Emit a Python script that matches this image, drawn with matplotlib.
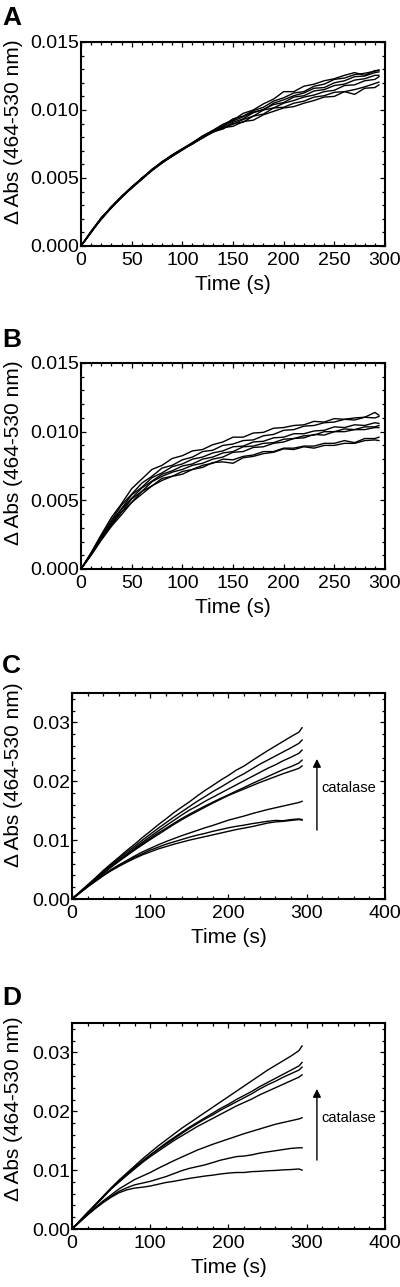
import matplotlib
matplotlib.use("Agg")
import matplotlib.pyplot as plt
from matplotlib.ticker import MultipleLocator, FormatStrFormatter

plt.rcParams['font.family'] = ['Liberation Sans', 'DejaVu Sans']

# ---------------- data (absorbance values in units of 1e-3) ----------------
time = [0, 10, 20, 30, 40, 50, 60, 70, 80, 90, 100, 110, 120, 130, 140, 150,
        160, 170, 180, 190, 200, 210, 220, 230, 240, 250, 260, 270, 280, 290, 294]

panel_A = [
    [0, 1.05, 2.0, 2.9, 3.65, 4.3, 5.0, 5.6, 6.2, 6.65, 7.1, 7.6, 8.1, 8.5, 8.95, 9.25, 9.75, 10.0, 10.45, 10.8, 11.35, 11.35, 11.75, 11.9, 12.15, 12.3, 12.55, 12.75, 12.55, 12.9, 12.9],
    [0, 1.0, 2.05, 2.85, 3.6, 4.35, 4.95, 5.65, 6.15, 6.7, 7.15, 7.55, 8.0, 8.4, 8.85, 9.35, 9.55, 9.95, 10.2, 10.65, 10.9, 11.25, 11.35, 11.75, 11.9, 12.25, 12.35, 12.6, 12.7, 12.85, 12.95],
    [0, 1.1, 2.05, 2.8, 3.6, 4.25, 4.9, 5.55, 6.1, 6.6, 7.1, 7.5, 7.95, 8.45, 8.8, 9.2, 9.5, 9.85, 10.0, 10.5, 10.75, 11.05, 11.25, 11.6, 11.65, 12.0, 12.15, 12.45, 12.5, 12.75, 12.8],
    [0, 1.05, 2.1, 2.85, 3.55, 4.3, 4.95, 5.6, 6.15, 6.6, 7.05, 7.55, 7.95, 8.35, 8.65, 9.1, 9.35, 9.8, 10.05, 10.4, 10.55, 10.95, 11.05, 11.4, 11.5, 11.8, 11.9, 12.2, 12.3, 12.55, 12.55],
    [0, 1.0, 2.0, 2.9, 3.6, 4.25, 5.0, 5.55, 6.1, 6.65, 7.1, 7.5, 8.0, 8.45, 8.75, 8.95, 9.3, 9.55, 10.0, 10.15, 10.5, 10.7, 10.95, 11.1, 11.35, 11.45, 11.8, 11.85, 12.15, 12.25, 12.45],
    [0, 1.05, 1.95, 2.8, 3.6, 4.3, 4.9, 5.6, 6.2, 6.7, 7.15, 7.6, 8.05, 8.4, 8.6, 9.0, 9.1, 9.55, 9.7, 10.15, 10.2, 10.5, 10.65, 10.95, 11.05, 11.3, 11.35, 11.5, 11.7, 11.95, 12.05],
    [0, 1.0, 2.05, 2.85, 3.65, 4.35, 4.95, 5.55, 6.15, 6.6, 7.1, 7.55, 7.95, 8.45, 8.7, 8.8, 9.15, 9.25, 9.65, 9.9, 10.15, 10.25, 10.5, 10.7, 10.95, 11.0, 11.35, 11.15, 11.6, 11.65, 11.85],
]

panel_B = [
    [0, 1.2, 2.5, 3.75, 4.75, 5.85, 6.55, 7.25, 7.55, 8.05, 8.25, 8.6, 8.7, 9.05, 9.25, 9.6, 9.6, 9.9, 9.95, 10.25, 10.3, 10.45, 10.5, 10.75, 10.7, 10.95, 10.9, 11.0, 11.05, 11.4, 11.2],
    [0, 1.15, 2.4, 3.55, 4.65, 5.45, 6.25, 6.75, 7.35, 7.55, 7.95, 8.15, 8.55, 8.65, 9.0, 9.1, 9.35, 9.4, 9.7, 9.8, 10.1, 10.15, 10.4, 10.45, 10.65, 10.7, 10.9, 10.85, 11.05, 11.0, 11.1],
    [0, 1.1, 2.3, 3.45, 4.4, 5.4, 5.95, 6.65, 7.0, 7.45, 7.65, 8.0, 8.15, 8.45, 8.6, 8.9, 8.95, 9.25, 9.3, 9.55, 9.6, 9.85, 9.85, 10.05, 10.1, 10.35, 10.3, 10.5, 10.45, 10.65, 10.6],
    [0, 1.1, 2.25, 3.3, 4.35, 5.15, 5.9, 6.4, 6.9, 7.15, 7.5, 7.65, 8.0, 8.15, 8.45, 8.55, 8.9, 8.95, 9.15, 9.2, 9.45, 9.5, 9.7, 9.75, 10.0, 10.0, 10.2, 10.15, 10.35, 10.35, 10.45],
    [0, 1.05, 2.2, 3.25, 4.15, 5.1, 5.65, 6.35, 6.75, 7.05, 7.25, 7.55, 7.7, 8.0, 8.15, 8.5, 8.55, 8.85, 8.9, 9.15, 9.25, 9.5, 9.55, 9.8, 9.75, 10.0, 10.0, 10.15, 10.15, 10.3, 10.3],
    [0, 1.05, 2.15, 3.2, 4.15, 4.85, 5.65, 6.05, 6.6, 6.75, 7.1, 7.25, 7.55, 7.7, 8.0, 7.95, 8.2, 8.3, 8.55, 8.55, 8.8, 8.8, 8.95, 8.95, 9.15, 9.15, 9.35, 9.2, 9.5, 9.5, 9.6],
    [0, 1.0, 2.1, 3.1, 3.95, 4.85, 5.45, 6.05, 6.45, 6.75, 6.9, 7.25, 7.4, 7.75, 7.8, 7.7, 8.1, 8.2, 8.4, 8.5, 8.75, 8.7, 8.9, 8.8, 9.0, 9.0, 9.15, 9.15, 9.35, 9.4, 9.35],
]

panel_C = [
    [0, 1.2, 2.4, 3.6, 4.85, 6.0, 7.1, 8.25, 9.3, 10.45, 11.5, 12.6, 13.6, 14.65, 15.6, 16.5, 17.5, 18.45, 19.3, 20.2, 21.0, 21.9, 22.6, 23.5, 24.35, 25.2, 26.0, 26.8, 27.6, 28.35, 29.1],
    [0, 1.2, 2.35, 3.5, 4.7, 5.8, 6.9, 7.95, 8.95, 10.0, 11.0, 12.0, 12.95, 13.9, 14.8, 15.7, 16.6, 17.4, 18.25, 19.0, 19.8, 20.6, 21.3, 22.1, 22.9, 23.6, 24.3, 25.0, 25.7, 26.45, 27.0],
    [0, 1.15, 2.3, 3.4, 4.55, 5.6, 6.65, 7.65, 8.65, 9.65, 10.6, 11.55, 12.45, 13.35, 14.25, 15.1, 15.8, 16.6, 17.3, 18.0, 18.7, 19.4, 20.1, 20.8, 21.5, 22.2, 22.8, 23.5, 24.1, 24.75, 25.3],
    [0, 1.15, 2.25, 3.35, 4.45, 5.5, 6.5, 7.5, 8.45, 9.4, 10.3, 11.2, 12.0, 12.85, 13.65, 14.4, 15.1, 15.8, 16.45, 17.1, 17.7, 18.35, 18.95, 19.6, 20.2, 20.8, 21.4, 22.0, 22.5, 23.1, 23.6],
    [0, 1.1, 2.2, 3.3, 4.35, 5.4, 6.4, 7.35, 8.3, 9.2, 10.1, 10.95, 11.8, 12.65, 13.45, 14.2, 14.9, 15.6, 16.3, 16.95, 17.6, 18.15, 18.7, 19.25, 19.8, 20.3, 20.8, 21.3, 21.75, 22.2, 22.6],
    [0, 1.1, 2.15, 3.15, 4.1, 5.0, 5.8, 6.55, 7.3, 8.0, 8.6, 9.2, 9.75, 10.25, 10.75, 11.2, 11.65, 12.1, 12.5, 12.95, 13.4, 13.75, 14.1, 14.5, 14.85, 15.2, 15.5, 15.8, 16.1, 16.4, 16.6],
    [0, 1.05, 2.1, 3.1, 4.05, 4.9, 5.7, 6.4, 7.1, 7.7, 8.3, 8.8, 9.3, 9.7, 10.1, 10.5, 10.85, 11.15, 11.5, 11.8, 12.1, 12.35, 12.55, 12.8, 13.0, 13.2, 13.35, 13.3, 13.5, 13.6, 13.5],
    [0, 1.0, 2.05, 3.0, 3.95, 4.8, 5.55, 6.25, 6.9, 7.5, 8.0, 8.5, 8.9, 9.3, 9.65, 10.0, 10.3, 10.6, 10.9, 11.2, 11.5, 11.8, 12.05, 12.3, 12.6, 12.9, 13.1, 13.2, 13.35, 13.5, 13.4],
]

panel_D = [
    [0, 1.4, 2.8, 4.2, 5.6, 7.0, 8.3, 9.5, 10.7, 11.9, 13.0, 14.1, 15.1, 16.1, 17.1, 18.0, 18.9, 19.8, 20.7, 21.6, 22.5, 23.4, 24.3, 25.2, 26.1, 27.0, 27.8, 28.6, 29.4, 30.3, 31.1],
    [0, 1.4, 2.8, 4.15, 5.5, 6.9, 8.1, 9.3, 10.5, 11.55, 12.6, 13.6, 14.6, 15.5, 16.4, 17.3, 18.1, 18.9, 19.7, 20.5, 21.2, 22.0, 22.7, 23.4, 24.2, 24.9, 25.6, 26.3, 27.0, 27.7, 28.3],
    [0, 1.4, 2.75, 4.1, 5.5, 6.85, 8.05, 9.25, 10.4, 11.45, 12.5, 13.5, 14.4, 15.3, 16.2, 17.1, 17.9, 18.7, 19.4, 20.2, 20.9, 21.6, 22.3, 23.0, 23.8, 24.5, 25.1, 25.8, 26.4, 27.0, 27.5],
    [0, 1.35, 2.7, 4.05, 5.4, 6.8, 7.95, 9.1, 10.2, 11.3, 12.3, 13.2, 14.1, 15.0, 15.8, 16.6, 17.4, 18.1, 18.8, 19.5, 20.2, 20.9, 21.5, 22.1, 22.8, 23.4, 24.0, 24.6, 25.2, 25.8, 26.2],
    [0, 1.25, 2.5, 3.7, 4.8, 5.8, 6.8, 7.6, 8.4, 9.0, 9.6, 10.3, 10.95, 11.6, 12.2, 12.8, 13.4, 13.9, 14.4, 14.85, 15.3, 15.75, 16.2, 16.6, 17.0, 17.4, 17.8, 18.1, 18.4, 18.7, 18.9],
    [0, 1.25, 2.45, 3.55, 4.6, 5.55, 6.4, 7.0, 7.5, 7.8, 8.1, 8.5, 8.9, 9.4, 9.9, 10.3, 10.6, 10.9, 11.3, 11.7, 12.0, 12.3, 12.4, 12.6, 12.9, 13.1, 13.3, 13.5, 13.7, 13.8, 13.8],
    [0, 1.2, 2.4, 3.5, 4.5, 5.4, 6.15, 6.65, 6.95, 7.1, 7.3, 7.6, 7.9, 8.1, 8.35, 8.6, 8.8, 9.0, 9.15, 9.35, 9.5, 9.6, 9.6, 9.75, 9.8, 9.9, 9.95, 10.05, 10.1, 10.2, 10.0],
]

SCALE = 1e-3
panel_letters = ['A', 'B', 'C', 'D']
xlabel_text = 'Time (s)'
ylabel_text = '\u0394 Abs (464-530 nm)'
arrow_label = 'catalase'

# ---------------- figure ----------------
W, H = 400, 1287
fig = plt.figure(figsize=(W / 100, H / 100), dpi=100)


def px_axes(left, top, right, bottom):
    return fig.add_axes([left / W, 1 - bottom / H, (right - left) / W, (bottom - top) / H])


axes_px = [(81, 42, 385, 246), (81, 363, 385, 569), (72, 693, 385, 899), (72, 1023, 385, 1229)]
letter_baseline = [25, 347, 673, 1005]
ylabel_y = [0.561, 0.563, 0.602, 0.583]
series = [panel_A, panel_B, panel_C, panel_D]

for i, (box, data) in enumerate(zip(axes_px, series)):
    ax = px_axes(*box)
    for curve in data:
        ax.plot(time, [v * SCALE for v in curve], color='black', lw=1.0)
    if i < 2:
        ax.set_xlim(0, 300)
        ax.set_ylim(0, 0.015)
        ax.xaxis.set_major_locator(MultipleLocator(50))
        ax.xaxis.set_minor_locator(MultipleLocator(10))
        ax.yaxis.set_major_locator(MultipleLocator(0.005))
        ax.yaxis.set_minor_locator(MultipleLocator(0.001))
        ax.yaxis.set_major_formatter(FormatStrFormatter('%.3f'))
    else:
        ax.set_xlim(0, 400)
        ax.set_ylim(0, 0.035)
        ax.xaxis.set_major_locator(MultipleLocator(100))
        ax.xaxis.set_minor_locator(MultipleLocator(20))
        ax.yaxis.set_major_locator(MultipleLocator(0.01))
        ax.yaxis.set_minor_locator(MultipleLocator(0.002))
        ax.yaxis.set_major_formatter(FormatStrFormatter('%.2f'))
        ax.annotate('', xy=(313, 0.0238), xytext=(313, 0.0117),
                    arrowprops=dict(arrowstyle='-|>', color='black', lw=1.0,
                                    mutation_scale=12, shrinkA=0, shrinkB=0))
        ax.text(319, 0.0188, arrow_label, fontsize=10.5, va='center', ha='left')
    ax.xaxis.set_major_formatter(FormatStrFormatter('%d'))
    ax.tick_params(which='both', direction='in', top=True, right=True,
                   labelsize=14, width=0.9, color='black')
    ax.tick_params(which='major', length=3.4)
    ax.tick_params(which='minor', length=1.9)
    ax.tick_params(axis='y', which='major', pad=1.5)
    ax.tick_params(axis='x', which='major', pad=4.5)
    for s in ax.spines.values():
        s.set_linewidth(1.5)
    ax.set_xlabel(xlabel_text, fontsize=15)
    ax.set_ylabel(ylabel_text, fontsize=15)
    left, top, right, bottom = box
    ax.yaxis.set_label_coords((23 - left) / (right - left), ylabel_y[i])
    ax.xaxis.set_label_coords(0.5, -29 / (bottom - top))
    ax.xaxis.label.set_va('top')
    fig.text(2 / W, 1 - letter_baseline[i] / H, panel_letters[i], fontsize=19,
             fontweight='bold', va='baseline', ha='left')

fig.savefig('out.png', dpi=100)
